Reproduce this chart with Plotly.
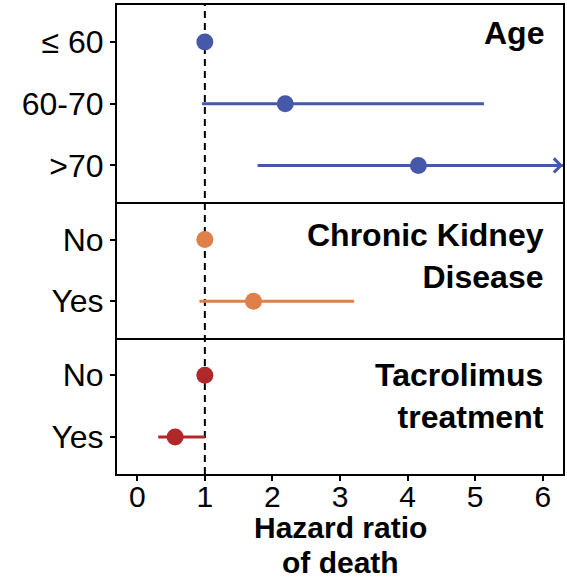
import plotly.graph_objects as go
from plotly.subplots import make_subplots

# Hazard ratios of death with 95% confidence intervals, by covariate group
age_labels = ["≤ 60", "60-70", ">70"]
age_hr = [1.0, 2.19, 4.16]
age_lo = [None, 0.96, 1.78]
age_hi = [None, 5.13, 7.9]

ckd_labels = ["No", "Yes"]
ckd_hr = [1.0, 1.72]
ckd_lo = [None, 0.92]
ckd_hi = [None, 3.21]

tac_labels = ["No", "Yes"]
tac_hr = [1.0, 0.56]
tac_lo = [None, 0.31]
tac_hi = [None, 1.0]

panel_titles = ["Age", "Chronic Kidney<br>Disease", "Tacrolimus<br>treatment"]
panel_colors = ["#4658A9", "#DE8048", "#B1282B"]
title_offsets = [-8, -13, -17]

x_ticks = [0, 1, 2, 3, 4, 5, 6]
X_MIN, X_MAX = -0.3, 6.3
REF = 1.0

FONT = "Liberation Sans, Arial, sans-serif"

panels = [
    (age_labels, age_hr, age_lo, age_hi),
    (ckd_labels, ckd_hr, ckd_lo, ckd_hi),
    (tac_labels, tac_hr, tac_lo, tac_hi),
]

fig = make_subplots(
    rows=3, cols=1, shared_xaxes=True, vertical_spacing=0,
    row_heights=[len(p[0]) + 0.2 for p in panels],
)

for i, (labels, hr, lo, hi) in enumerate(panels):
    row = i + 1
    color = panel_colors[i]
    n = len(labels)
    ypos = list(range(n, 0, -1))
    for y, h, l, u in zip(ypos, hr, lo, hi):
        if l is None:
            continue
        upper = min(u, X_MAX)
        fig.add_trace(go.Scatter(
            x=[l, upper], y=[y, y], mode="lines",
            line=dict(color=color, width=3), showlegend=False,
            hoverinfo="skip",
        ), row=row, col=1)
        if u > X_MAX:
            # interval runs past the axis: finish with an arrow head
            xr = "x" if row == 1 else f"x{row}"
            yr = "y" if row == 1 else f"y{row}"
            fig.add_annotation(
                x=upper, y=y, ax=upper - 0.6, ay=y,
                xref=xr, yref=yr, axref=xr, ayref=yr,
                text="", showarrow=True, arrowhead=4,
                arrowsize=0.9, arrowwidth=3, arrowcolor=color,
            )
    fig.add_trace(go.Scatter(
        x=hr, y=ypos, mode="markers",
        marker=dict(color=color, size=17),
        showlegend=False,
    ), row=row, col=1)

    fig.update_yaxes(
        row=row, col=1, range=[0.4, n + 0.6],
        tickvals=ypos, ticktext=labels,
        ticks="outside", ticklen=5, tickwidth=2, tickcolor="black",
        tickfont=dict(family=FONT, size=32, color="black"),
        showline=True, mirror=True, linecolor="black", linewidth=2,
        showgrid=False, zeroline=False, fixedrange=True,
    )
    # only the top panel mirrors its x line, so each separator is drawn once
    fig.update_xaxes(
        row=row, col=1, range=[X_MIN, X_MAX],
        tickvals=x_ticks,
        ticks="outside" if row == 3 else "", ticklen=5, tickwidth=2,
        tickcolor="black",
        showticklabels=(row == 3), ticklabelstandoff=-10,
        tickfont=dict(family=FONT, size=30, color="black"),
        showline=True, mirror=(row == 1), linecolor="black", linewidth=2,
        showgrid=False, zeroline=False,
    )

    ydom = "y domain" if row == 1 else f"y{row} domain"
    fig.add_annotation(
        text=f"<b>{panel_titles[i]}</b>", x=1, y=1,
        xref="paper", yref=ydom, xanchor="right", yanchor="top",
        xshift=-17, yshift=title_offsets[i], showarrow=False, align="right",
        font=dict(family=FONT, size=32, color="black"),
    )

# reference line at HR = 1
fig.add_shape(
    type="line", x0=REF, x1=REF, y0=0, y1=1, xref="x", yref="paper",
    line=dict(color="black", width=2, dash="7px,5px"), layer="below",
)

# x-axis title, set as two lines
for line_text, shift in [("Hazard ratio", -35), ("of death", -70)]:
    fig.add_annotation(
        text=f"<b>{line_text}</b>", x=0.5, y=0,
        xref="paper", yref="paper", xanchor="center", yanchor="top",
        yshift=shift, showarrow=False,
        font=dict(family=FONT, size=30, color="black"),
    )

fig.update_layout(
    width=567, height=580,
    margin=dict(l=117, r=2, t=5, b=106),
    paper_bgcolor="white", plot_bgcolor="white",
    showlegend=False,
)

fig.write_html("out.html", config={"displayModeBar": False})
